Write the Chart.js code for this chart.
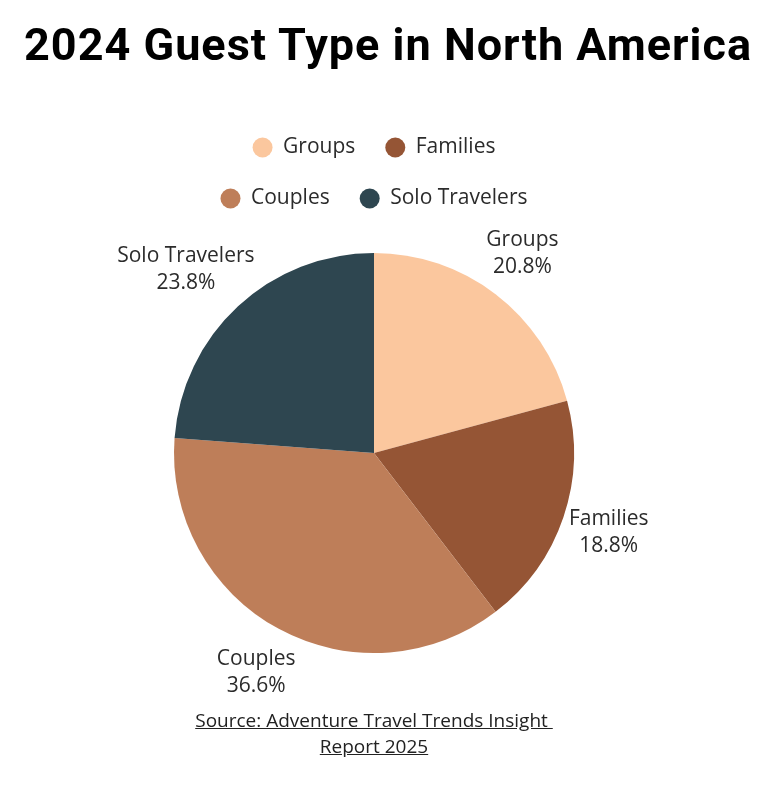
<!DOCTYPE html>
<html>
<head>
<meta charset="utf-8">
<script src="https://cdn.jsdelivr.net/npm/chart.js@4.4.0/dist/chart.umd.min.js"></script>
<style>
  html, body { margin: 0; padding: 0; background: #fff; }
  #wrap { position: relative; width: 768px; height: 792px; }
  #chartBox { position: absolute; left: 0; top: 0; width: 768px; height: 792px; }
  h1 {
    position: absolute; left: 0; top: 17px; width: 776px; margin: 0;
    text-align: center; font-family: Roboto, sans-serif; font-weight: 700;
    font-size: 45px; line-height: 56px; letter-spacing: 1px; color: #000;
  }
  #source {
    position: absolute; left: 154px; top: 707px; width: 440px;
    text-align: center; font-family: "Open Sans", sans-serif; font-size: 19px;
    line-height: 26px; color: #222; text-decoration: underline;
  }
</style>
</head>
<body>
<div id="wrap">
  <div id="chartBox"><canvas id="guestChart"></canvas></div>
  <h1>2024 Guest Type in North America</h1>
  <div id="source">Source: Adventure Travel Trends Insight&nbsp;<br>Report 2025</div>
</div>
<script>
// Guest type share
const guestTypes = ['Groups', 'Families', 'Couples', 'Solo Travelers'];
const guestShare = [20.8, 18.8, 36.6, 23.8];
const sliceColors = ['#fbc79e', '#955535', '#be7e59', '#2e4650'];

const labelFont = '21px "Open Sans", sans-serif';

// Draws "name / value%" outside each slice
const outsideLabels = {
  id: 'outsideLabels',
  afterDatasetsDraw(chart) {
    const ctx = chart.ctx;
    const meta = chart.getDatasetMeta(0);
    ctx.save();
    ctx.font = labelFont;
    ctx.fillStyle = '#2b2b2b';
    ctx.textAlign = 'center';
    ctx.textBaseline = 'middle';
    meta.data.forEach((arc, i) => {
      const mid = (arc.startAngle + arc.endAngle) / 2;
      const dx = Math.cos(mid), dy = Math.sin(mid);
      const lines = [guestTypes[i], guestShare[i].toFixed(1) + '%'];
      const w = Math.max(...lines.map(t => ctx.measureText(t).width));
      const r = arc.outerRadius + 8;
      const cx = arc.x + dx * r + dx * w / 2;
      const cy = arc.y + dy * r + dy * 42;
      ctx.fillText(lines[0], cx, cy - 14);
      ctx.fillText(lines[1], cx, cy + 13);
    });
    ctx.restore();
  }
};

new Chart(document.getElementById('guestChart').getContext('2d'), {
  type: 'pie',
  data: {
    labels: guestTypes,
    datasets: [{
      data: guestShare,
      backgroundColor: sliceColors,
      borderWidth: 0
    }]
  },
  options: {
    responsive: true,
    maintainAspectRatio: false,
    animation: false,
    layout: {
      padding: { top: 107, bottom: 105, left: 174, right: 194 }
    },
    plugins: {
      tooltip: { enabled: false },
      legend: {
        position: 'top',
        labels: {
          usePointStyle: true,
          pointStyle: 'circle',
          boxHeight: 14,
          pointStyleWidth: 20,
          padding: 30,
          color: '#2b2b2b',
          font: { family: '"Open Sans", sans-serif', size: 21 }
        }
      }
    }
  },
  plugins: [outsideLabels]
});
</script>
</body>
</html>
